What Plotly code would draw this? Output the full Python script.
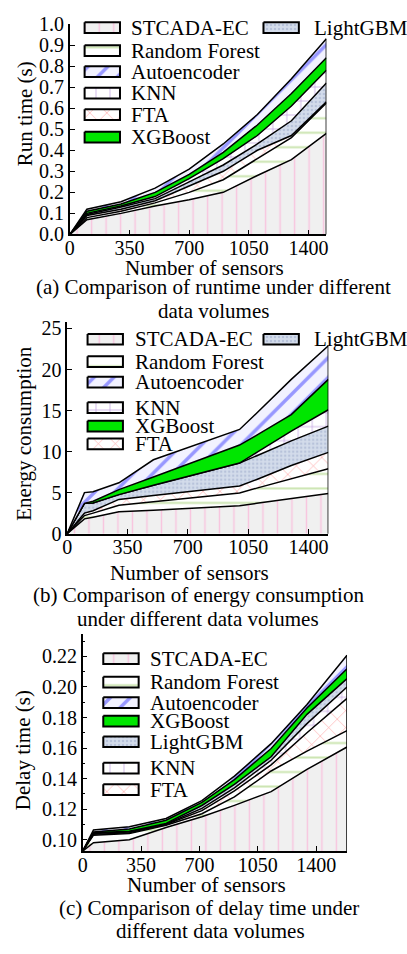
import plotly.graph_objects as go

W, H = 407, 954
FONT = "Liberation Serif, Times New Roman, serif"

# ---------------- data ----------------
# (a) run time (s)
x_a = [0, 100, 300, 500, 700, 900, 1100, 1300, 1505]
run_stcada = [0, 0.07, 0.10, 0.135, 0.165, 0.20, 0.28, 0.355, 0.48]
run_rf     = [0, 0.08, 0.11, 0.15, 0.20, 0.26, 0.36, 0.46, 0.625]
run_fta    = [0, 0.09, 0.12, 0.16, 0.23, 0.30, 0.40, 0.47, 0.63]
run_lgbm   = [0, 0.095, 0.13, 0.17, 0.25, 0.33, 0.43, 0.54, 0.72]
run_knn    = [0, 0.10, 0.135, 0.18, 0.265, 0.36, 0.47, 0.61, 0.78]
run_xgb    = [0, 0.11, 0.145, 0.20, 0.285, 0.39, 0.52, 0.67, 0.84]
run_auto   = [0, 0.12, 0.155, 0.22, 0.31, 0.43, 0.57, 0.74, 0.93]

# (b) energy consumption
x_b = [0, 100, 150, 300, 500, 1000, 1100, 1300, 1515]
en_stcada = [0, 1.8, 2.0, 2.66, 2.85, 3.4, 3.7, 4.3, 4.9]
en_rf     = [0, 2.2, 2.5, 3.45, 3.9, 4.96, 5.55, 6.7, 7.9]
en_fta    = [0, 2.5, 2.8, 4.17, 4.64, 5.8, 6.6, 8.3, 9.9]
en_lgbm   = [0, 3.7, 3.75, 4.76, 5.9, 8.6, 9.5, 11.3, 13.1]
en_knn    = [0, 3.7, 3.75, 4.76, 5.9, 8.6, 9.9, 12.5, 15.1]
en_xgb    = [0, 3.7, 3.95, 5.36, 6.9, 10.8, 12.0, 14.5, 18.8]
en_auto   = [0, 5.0, 5.1, 6.2, 9.0, 12.7, 14.7, 18.8, 22.9]

# (c) delay time (s)
x_c = [0, 65, 280, 500, 715, 910, 1130, 1345, 1585]
de_stcada = [0.0925, 0.098, 0.100, 0.108, 0.115, 0.1225, 0.1315, 0.146, 0.1607]
de_rf     = [0.0925, 0.103, 0.104, 0.1095, 0.117, 0.128, 0.145, 0.158, 0.1714]
de_fta    = [0.0925, 0.1035, 0.1045, 0.110, 0.119, 0.132, 0.149, 0.170, 0.1925]
de_knn    = [0.0925, 0.104, 0.105, 0.1103, 0.1205, 0.134, 0.152, 0.176, 0.2000]
de_lgbm   = [0.0925, 0.1045, 0.1055, 0.1107, 0.1224, 0.1362, 0.1543, 0.1821, 0.2055]
de_xgb    = [0.0925, 0.105, 0.107, 0.1128, 0.1245, 0.1394, 0.1597, 0.1863, 0.2119]
de_auto   = [0.0925, 0.1064, 0.1085, 0.1139, 0.1256, 0.1416, 0.1629, 0.1885, 0.2208]

x_ticks = [0, 350, 700, 1050, 1400]

legend_a = ["STCADA-EC", "Random Forest", "Autoencoder", "KNN", "FTA", "XGBoost"]
legend_b = ["STCADA-EC", "Random Forest", "Autoencoder", "KNN", "XGBoost", "FTA"]
legend_c = ["STCADA-EC", "Random Forest", "Autoencoder", "XGBoost", "LightGBM", "KNN", "FTA"]

# ---------------- styles ----------------
STYLE = {
    "STCADA-EC": dict(fillpattern=dict(shape="|", fgcolor="#ff99cc", bgcolor="#f0f0f0", size=14.5, solidity=0.1)),
    "Random Forest": dict(fillpattern=dict(shape="-", fgcolor="#99cc66", bgcolor="#ffffff", size=14.5, solidity=0.14)),
    "FTA": dict(fillpattern=dict(shape="x", fgcolor="#ff4444", bgcolor="#ffffff", size=12, solidity=0.1)),
    "LightGBM": dict(fillpattern=dict(shape=".", fgcolor="#9aa8c8", bgcolor="#d3dceb", size=4, solidity=0.3)),
    "KNN": dict(fillpattern=dict(shape="+", fgcolor="#8040c0", bgcolor="#ffffff", size=14, solidity=0.1)),
    "XGBoost": dict(fillcolor="#00e600"),
    "Autoencoder": dict(fillpattern=dict(shape="/", fgcolor="#3c3cff", bgcolor="#f2f2ff", size=14, solidity=0.25)),
}

fig = go.Figure()

def px(xo):
    return xo / W

def py(yo):
    return 1 - yo / H

def add_panel(xaxis, yaxis, xs, series):
    for i, (name, ys) in enumerate(series):
        fig.add_trace(go.Scatter(
            x=xs, y=ys, mode="lines", name=name,
            line=dict(color="black", width=1.5),
            fill="tozeroy" if i == 0 else "tonexty",
            xaxis=xaxis, yaxis=yaxis, showlegend=False,
            **STYLE[name],
        ))
    top = series[-1][1]
    fig.add_trace(go.Scatter(
        x=[xs[-1], xs[-1]], y=[series[0][1][0] - 1, top[-1]], mode="lines",
        line=dict(color="black", width=1.5), showlegend=False,
        xaxis=xaxis, yaxis=yaxis, hoverinfo="skip",
    ))

add_panel("x", "y", x_a, [
    ("STCADA-EC", run_stcada), ("Random Forest", run_rf), ("FTA", run_fta),
    ("LightGBM", run_lgbm), ("KNN", run_knn), ("XGBoost", run_xgb), ("Autoencoder", run_auto),
])
add_panel("x2", "y2", x_b, [
    ("STCADA-EC", en_stcada), ("Random Forest", en_rf), ("FTA", en_fta),
    ("LightGBM", en_lgbm), ("KNN", en_knn), ("XGBoost", en_xgb), ("Autoencoder", en_auto),
])
add_panel("x3", "y3", x_c, [
    ("STCADA-EC", de_stcada), ("Random Forest", de_rf), ("FTA", de_fta),
    ("KNN", de_knn), ("LightGBM", de_lgbm), ("XGBoost", de_xgb), ("Autoencoder", de_auto),
])

# ---------------- hand-built legends (pixel overlay axes) ----------------
SW_W, SW_H = 36, 11
LEG_FONT = 21

def legend_item(name, sx, yc, tx):
    fig.add_trace(go.Scatter(
        x=[sx, sx + SW_W, sx + SW_W, sx, sx],
        y=[yc - SW_H / 2, yc - SW_H / 2, yc + SW_H / 2, yc + SW_H / 2, yc - SW_H / 2],
        mode="lines", fill="toself", line=dict(color="black", width=2),
        xaxis="x4", yaxis="y4", showlegend=False, hoverinfo="skip", **STYLE[name],
    ))
    fig.add_annotation(text=name, x=tx, y=yc, xref="x4", yref="y4", showarrow=False,
                       xanchor="left", yanchor="middle",
                       font=dict(family=FONT, size=LEG_FONT, color="black"))

def legend_block(names, sx, ys, tx):
    for name, yc in zip(names, ys):
        legend_item(name, sx, yc, tx)

legend_block(legend_a, 81, [17, 40.5, 62, 84, 106, 129], 126)
legend_item("LightGBM", 263, 17, 312)
legend_block(legend_b, 84, [336, 359, 380, 406, 425, 443], 130)
legend_item("LightGBM", 263, 336, 312)
legend_block(legend_c, 100, [663, 687, 708, 727, 748, 775, 797], 146)

tickfont = dict(family=FONT, size=20, color="black")
axis_common = dict(showline=True, linecolor="black", linewidth=1.5, ticks="inside",
                   ticklen=5, tickcolor="black", tickwidth=1.2, showgrid=False,
                   zeroline=False, tickfont=tickfont)
xaxis_common = dict(axis_common, ticklabelstandoff=-5)

fig.update_layout(
    width=W, height=H, margin=dict(l=0, r=0, t=0, b=0),
    paper_bgcolor="white", plot_bgcolor="rgba(0,0,0,0)", showlegend=False,
    xaxis=dict(domain=[px(66), px(327)], range=[0, 1505], tickvals=x_ticks, anchor="y", **xaxis_common),
    yaxis=dict(domain=[py(228.7), py(13.3)], range=[0, 1.0], dtick=0.1, tickformat=".1f", anchor="x", **axis_common),
    xaxis2=dict(domain=[px(63.3), px(329)], range=[0, 1515], tickvals=x_ticks, anchor="y2", **xaxis_common),
    yaxis2=dict(domain=[py(535), py(318)], range=[0, 25.83], dtick=5, anchor="x2", **axis_common),
    xaxis3=dict(domain=[px(79), px(348)], range=[0, 1585], tickvals=x_ticks, anchor="y3", **xaxis_common),
    yaxis3=dict(domain=[py(860), py(638)], range=[0.0925, 0.2345], dtick=0.02, tickformat=".2f", anchor="x3",
                minor=dict(dtick=0.01, ticks="inside", ticklen=3, tickcolor="black"), **axis_common),
    xaxis4=dict(domain=[0, 1], range=[0, W], visible=False, fixedrange=True, anchor="y4"),
    yaxis4=dict(domain=[0, 1], range=[H, 0], visible=False, fixedrange=True, anchor="x4"),
)

def ann(text, xo, yo, size=21, angle=0):
    fig.add_annotation(text=text, x=px(xo), y=py(yo), xref="paper", yref="paper",
                       showarrow=False, textangle=angle, xanchor="center", yanchor="middle",
                       font=dict(family=FONT, size=size, color="black"))

ann("Run time (s)", 20, 105, 21, -90)
ann("Energy consumption", 19, 432, 21, -90)
ann("Delay time (s)", 18, 757, 21, -90)

ann("Number of sensors", 203, 263)
ann("(a) Comparison of runtime under different", 212, 283)
ann("data volumes", 212, 307)
ann("Number of sensors", 188, 575)
ann("(b) Comparison of energy consumption", 197, 598)
ann("under different data volumes", 196, 622)
ann("Number of sensors", 205, 895)
ann("(c) Comparison of delay time under", 208, 918)
ann("different data volumes", 209, 942)

fig.write_html("out.html")
